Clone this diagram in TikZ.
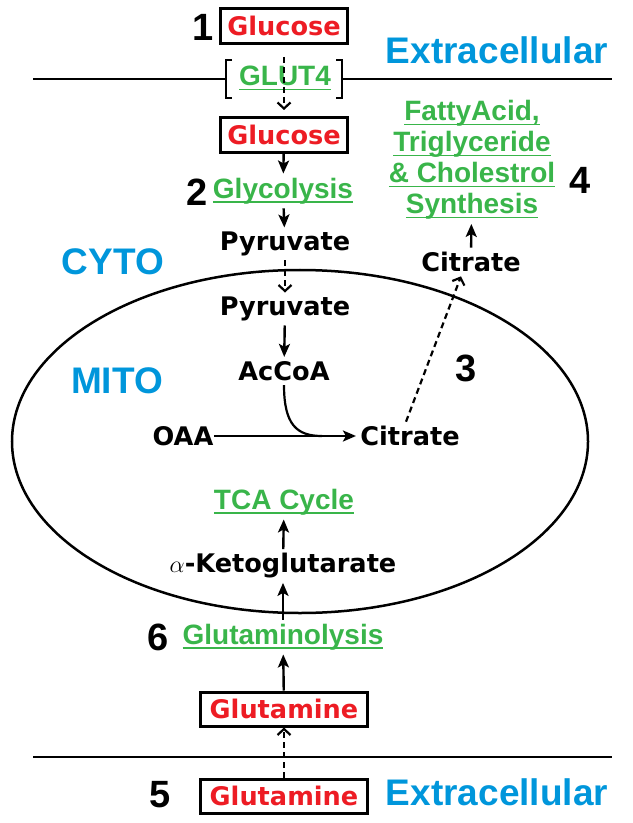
\documentclass[tikz,border=0pt]{standalone}
\usepackage{fontspec}
\setmainfont{Liberation Sans}
\newfontfamily\heavy{DejaVu Sans}
\usetikzlibrary{arrows.meta,positioning,calc}
\definecolor{glured}{RGB}{237,28,36}
\definecolor{pwgreen}{RGB}{57,181,74}
\definecolor{cellblue}{RGB}{0,150,219}
\newcommand{\gul}[1]{\setbox0\hbox{#1}\rlap{\rule[-2.2pt]{\wd0}{0.7pt}}\box0}

\begin{document}
\begin{tikzpicture}[x=0.5pt,y=-0.5pt,
    molbox/.style={draw, line width=1.5pt, inner sep=0pt, text=glured,
      font=\heavy\bfseries\fontsize{12.8}{14}\selectfont},
    mol/.style={font=\heavy\bfseries\fontsize{12.8}{14}\selectfont, inner sep=2pt},
    pway/.style={font=\bfseries\fontsize{14}{15.5}\selectfont, text=pwgreen, align=center, inner sep=2pt},
    comp/.style={font=\bfseries\fontsize{18.5}{20}\selectfont, text=cellblue},
    num/.style={font=\bfseries\fontsize{19}{20}\selectfont},
    arr/.style={line width=1.2pt, -{Stealth[length=6.5pt,width=5.5pt,inset=1.5pt]}},
    darr/.style={line width=1.1pt, dash pattern=on 3pt off 2pt, -{Straight Barb[length=3pt,width=6.5pt]}},
    memb/.style={line width=1pt}]
    \useasboundingbox (0,0) rectangle (632,823);

    % outside, top
    \node[molbox, minimum width=63.5pt, minimum height=17.5pt] (glcout) at (284,26) {Glucose};
    \node[num] (n1) at (203,27) {1};
    \node[comp] (extop) at (497,50) {Extracellular};

    % membrane with GLUT4
    \coordinate (mlA) at (33,79);
    \coordinate (mlB) at (226,79);
    \coordinate (mrA) at (342,79);
    \coordinate (mrB) at (612,79);
    \draw[memb] (mlA) -- (mlB);
    \draw[memb] (mrA) -- (mrB);
    \draw[line width=1.2pt] ($(mlB)+(6,-19)$) -- ++(-6,0) -- ++(0,38) -- ++(6,0);
    \draw[line width=1.2pt] ($(mrA)+(-6,-19)$) -- ++(6,0) -- ++(0,38) -- ++(-6,0);
    \node[pway] (glut) at (285,78) {\gul{GLUT4}};

    % cytosol
    \node[molbox, minimum width=63.5pt, minimum height=17.5pt] (glcin) at (284,135) {Glucose};
    \draw[darr, shorten <=6pt, shorten >=3pt] (glcout) -- (glcin);
    \node[pway] (glyc) at (283,191) {\gul{Glycolysis}};
    \node[num] (n2) at (197,192) {2};
    \draw[arr] (glcin) -- (glyc);
    \node[mol] (pyrc) at (285,244) {Pyruvate};
    \draw[arr] (glyc) -- (pyrc);
    \node[comp] (cyto) at (113,262) {CYTO};

    % mitochondrion
    \draw[line width=1.25pt] (300,441.5) ellipse [x radius=144pt, y radius=85.75pt];
    \node[mol] (pyrm) at (285,309) {Pyruvate};
    \draw[darr] (pyrc) -- (pyrm);
    \node[mol] (acoa) at (284,371) {AcCoA};
    \draw[arr] (pyrm) -- (acoa);
    \node[comp] (mito) at (117,381) {MITO};
    \node[num] (n3) at (466,368) {3};
    \node[mol, inner sep=0pt] (oaa) at (183,436) {OAA};
    \node[mol] (citm) at (410,436) {Citrate};
    \draw[arr] (oaa) -- (citm);
    \coordinate (join) at (322,436);
    \draw[line width=1.1pt] (acoa.south) .. controls ($(acoa.south)+(0,40)$) and ($(join)+(-25,0)$) .. (join);

    % citrate export
    \node[mol] (citc) at (471,262) {Citrate};
    \draw[darr] ([xshift=-2pt]citm.north) -- ([xshift=-5pt]citc.south);
    \node[pway] (synth) at (472,160) {\gul{FattyAcid,}\\\gul{Triglyceride}\\\gul{\& Cholestrol}\\\gul{Synthesis}};
    \draw[arr] (citc) -- (synth);
    \node[num] (n4) at (580,180) {4};

    % glutamine branch
    \node[pway] (tca) at (284,502) {\gul{TCA Cycle}};
    \node[mol] (akg) at (283,566) {$\alpha$-Ketoglutarate};
    \draw[arr] (akg) -- (tca);
    \node[pway] (glnl) at (283,637) {\gul{Glutaminolysis}};
    \node[num] (n6) at (158,637) {6};
    \draw[arr] (glnl) -- (akg);
    \node[molbox, minimum width=83.5pt, minimum height=17pt] (glnin) at (284,709) {Glutamine};
    \draw[arr] (glnin) -- (glnl);

    % outside, bottom
    \coordinate (mbA) at (33,757);
    \coordinate (mbB) at (612,757);
    \draw[memb] (mbA) -- (mbB);
    \node[molbox, minimum width=83.5pt, minimum height=17pt] (glnout) at (284,796) {Glutamine};
    \draw[darr] (glnout) -- (glnin);
    \node[num] (n5) at (160,795) {5};
    \node[comp] (exbot) at (497,792) {Extracellular};
\end{tikzpicture}
\end{document}
